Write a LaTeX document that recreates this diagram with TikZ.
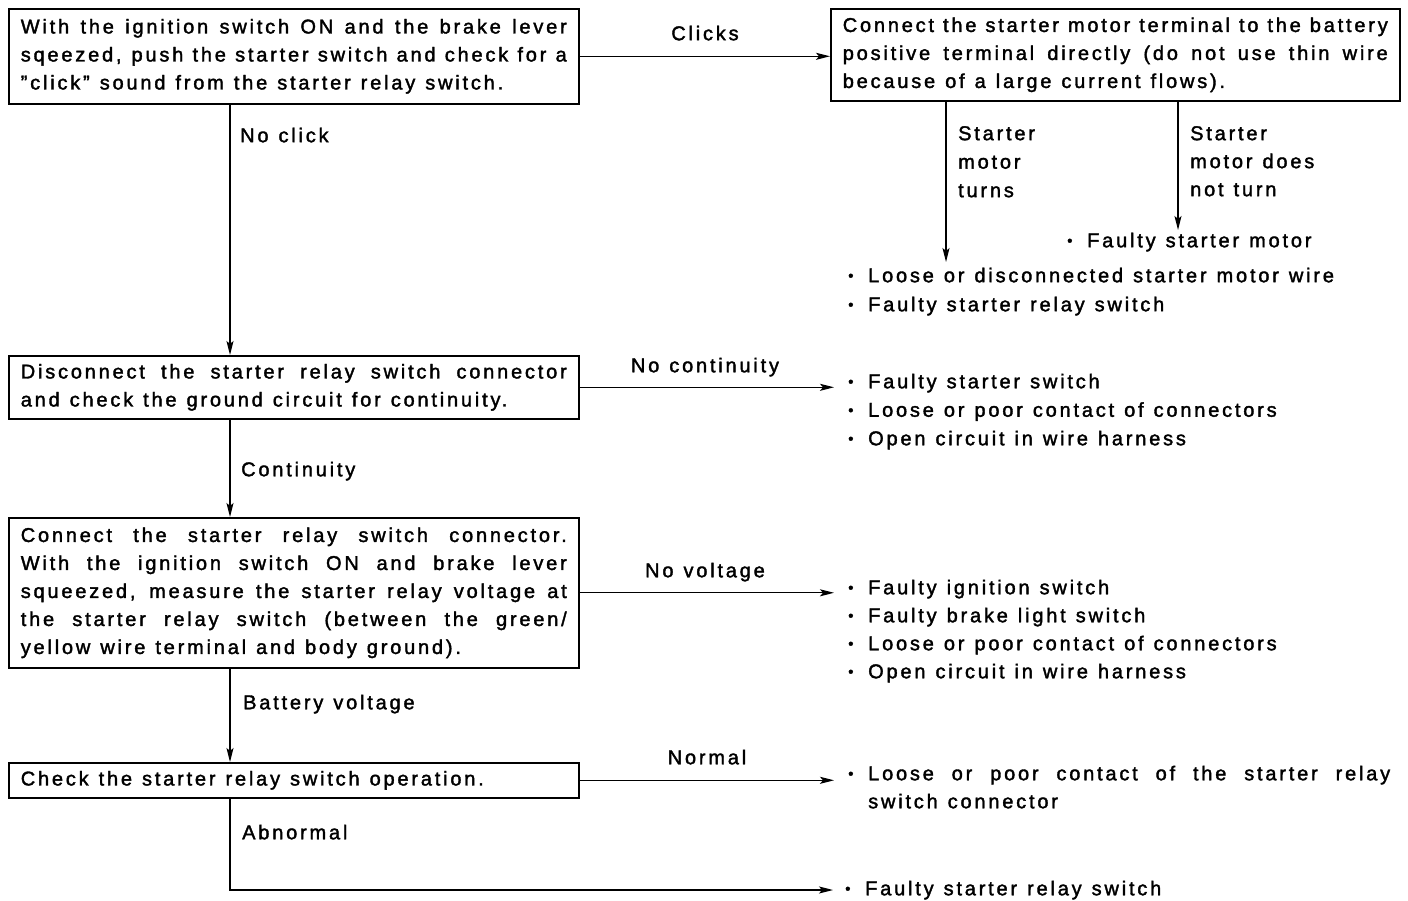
\documentclass[tikz,border=0pt]{standalone}
\usepackage{fontspec}
\setmainfont{Liberation Sans}[LetterSpace=14, FakeBold=1.8]
\usetikzlibrary{positioning,arrows.meta}

% text face of the chart
\newcommand{\wsp}{\spaceskip=0.5em plus 0.1em minus 0.05em\relax}
\newcommand{\txt}{\fontsize{20}{28}\selectfont\wsp}
\newcommand{\txtw}{\fontsize{20}{28.5}\selectfont\wsp}
% one justified line of a box
\newcommand{\jl}[2][546pt]{\makebox[#1][s]{\spaceskip=0.3em plus 1fil\relax #2}}
% small bullet for the result lists
\newcommand{\bl}{\makebox[20pt][l]{\raisebox{1.5pt}{\fontsize{15}{15}\selectfont\textbullet}}}

\tikzset{
  box/.style={draw, line width=1.6pt, anchor=north west, inner xsep=12pt, inner ysep=0pt,
    text width=546pt, align=left, font=\txt, execute at begin node=\wsp},
  lbl/.style={inner sep=0pt, font=\txt, text height=14.5pt, text depth=4pt},
  item/.style={lbl, anchor=west},
  arr/.style={line width=1.3pt, -{Stealth[length=14pt,width=7pt,inset=3pt]}}
}

\begin{document}
\begin{tikzpicture}[x=1pt, y=-1pt]
\useasboundingbox (0,0) rectangle (1408,901);

% --- boxes ---
\node[box, minimum height=95pt] (box1) at (8,8) {%
  \jl{With the ignition switch ON and the brake lever}\\
  \jl{sqeezed, push the starter switch and check for a}\\
  ”click” sound from the starter relay switch.};
\node[box, minimum height=92pt, text width=545pt] (box2) at (830,8) {%
  \jl[545pt]{Connect the starter motor terminal to the battery}\\
  \jl[545pt]{positive terminal directly (do not use thin wire}\\
  because of a large current flows).};
\node[box, minimum height=63pt] (box3) at (8,355) {%
  \jl{Disconnect the starter relay switch connector}\\
  and check the ground circuit for continuity.};
\node[box, minimum height=150pt] (box4) at (8,517) {%
  \jl{Connect the starter relay switch connector.}\\
  \jl{With the ignition switch ON and brake lever}\\
  \jl{squeezed, measure the starter relay voltage at}\\
  \jl{the starter relay switch (between the green/}\\
  yellow wire terminal and body ground).};
\node[box, minimum height=35pt] (box5) at (8,762) {Check the starter relay switch operation.};

% --- labels on the connectors ---
\node[lbl] (lclick) at (705,35) {Clicks};
\node[lbl, anchor=west] (lnoclick) at (240,137) {No click};
\node[lbl] (lnocont) at (705,367) {No continuity};
\node[lbl, anchor=west] (lcont) at (241,471) {Continuity};
\node[lbl] (lnovolt) at (705,572) {No voltage};
\node[lbl, anchor=west] (lbatt) at (243,704) {Battery voltage};
\node[lbl] (lnormal) at (707,759) {Normal};
\node[lbl, anchor=west] (labnormal) at (242,834) {Abnormal};
\node[lbl, anchor=north west, align=left, text height=, text depth=, font=\txtw, execute at begin node=\wsp]
  (lturns) at (958,126) {Starter\\motor\\turns};
\node[lbl, anchor=north west, align=left, text height=, text depth=, execute at begin node=\wsp]
  (lnoturn) at (1190,126) {Starter\\motor does\\not turn};

% --- results ---
\node[item] (r11) at (1067,242) {\bl Faulty starter motor};
\foreach \t [count=\i] in {Loose or disconnected starter motor wire, Faulty starter relay switch}
  \node[item] (r2\i) at (848,277+29*\i-29) {\bl \t};
\foreach \t [count=\i] in {Faulty starter switch, Loose or poor contact of connectors, Open circuit in wire harness}
  \node[item] (r3\i) at (848,383+28.5*\i-28.5) {\bl \t};
\foreach \t [count=\i] in {Faulty ignition switch, Faulty brake light switch, Loose or poor contact of connectors, Open circuit in wire harness}
  \node[item] (r4\i) at (848,589+28*\i-28) {\bl \t};
\node[item] (r51) at (848,775) {\bl\jl[522pt]{Loose or poor contact of the starter relay}};
\node[item] (r52) at (868,803) {switch connector};
\node[item] (r61) at (845,890) {\bl Faulty starter relay switch};

% --- connectors ---
\coordinate (spine) at (230,0);
\coordinate (tturns) at (946,262);
\coordinate (tnoturn) at (1178,230);
\draw[arr] (box1.east) -- (box1.east -| box2.west);
\draw[arr] (tturns |- box2.south) -- (tturns);
\draw[arr] (tnoturn |- box2.south) -- (tnoturn);
\draw[arr] (spine |- box1.south) -- (spine |- box3.north);
\draw[arr] (spine |- box3.south) -- (spine |- box4.north);
\draw[arr] (spine |- box4.south) -- (spine |- box5.north);
\draw[arr, shorten >=14pt] (box3.east) -- (box3.east -| r31.west);
\draw[arr, shorten >=14pt] (box4.east) -- (box4.east -| r41.west);
\draw[arr, shorten >=14pt] (box5.east) -- (box5.east -| r51.west);
\draw[arr, shorten >=12pt] (spine |- box5.south) -- (spine |- r61.west) -- (r61.west);

\end{tikzpicture}
\end{document}
